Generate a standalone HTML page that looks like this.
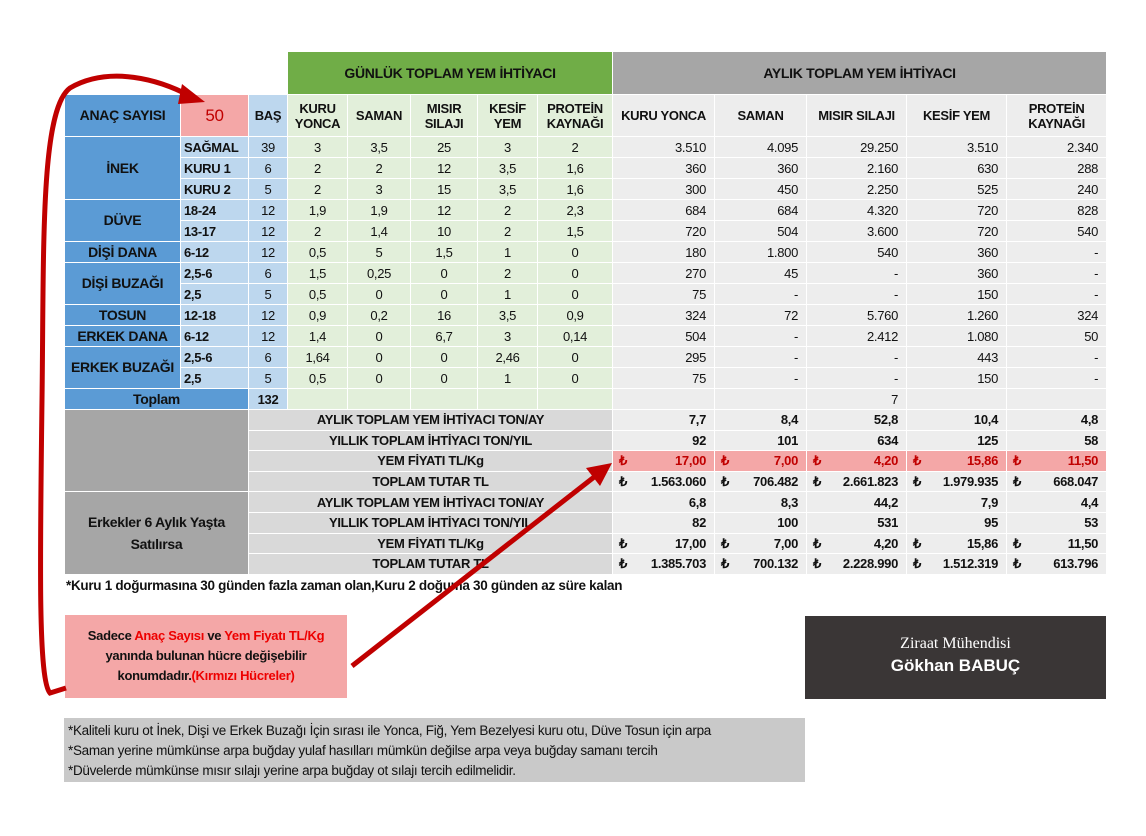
<!DOCTYPE html>
<html><head><meta charset="utf-8"><style>
*{margin:0;padding:0;box-sizing:border-box}
body{width:1146px;height:836px;background:#fff;position:relative;overflow:hidden;font-family:"Liberation Sans",sans-serif;color:#111}
table{position:absolute;left:64px;top:51px;width:1042px;table-layout:fixed;border-collapse:collapse}
td{border:1px solid #fff;font-size:13px;text-align:center;padding:0 3px;white-space:nowrap;overflow:hidden;line-height:15px;letter-spacing:-0.3px}
.b{font-weight:bold}
.bl{background:#5b9bd5;font-weight:bold;font-size:14px}
.lb{background:#bdd7ee;font-weight:bold;text-align:left}
.lb2{background:#bdd7ee}
.g{background:#e2efda}
.gh{background:#e2efda;font-weight:bold}
.gr{background:#ededed;text-align:right;padding-right:8px}
.grh{background:#ededed;font-weight:bold}
.mid{background:#d9d9d9;font-weight:bold}
.dk{background:#a6a6a6;font-weight:bold;font-size:14px}
.pk{background:#f4a7a7}
.tl{display:flex;justify-content:space-between;padding:0 8px 0 6px;font-weight:bold}
tr.d td{height:21px}
tr.s td{height:20.6px}
</style></head><body>
<table>
<colgroup><col style="width:116px"><col style="width:68px"><col style="width:39px"><col style="width:60px"><col style="width:63px"><col style="width:67px"><col style="width:60px"><col style="width:75px"><col style="width:102px"><col style="width:92px"><col style="width:100px"><col style="width:100px"><col style="width:100px"></colgroup>
<tr style="height:43px"><td colspan="3" style="background:#fff"></td><td colspan="5" class="b" style="background:#70ad47;font-size:14px">GÜNLÜK TOPLAM YEM İHTİYACI</td><td colspan="5" class="b" style="background:#a6a6a6;font-size:14px">AYLIK TOPLAM YEM İHTİYACI</td></tr>
<tr style="height:42px"><td class="bl">ANAÇ SAYISI</td><td class="pk" style="color:#c00000;font-size:17px">50</td><td class="lb2 b">BAŞ</td><td class="gh">KURU<br>YONCA</td><td class="gh">SAMAN</td><td class="gh">MISIR<br>SILAJI</td><td class="gh">KESİF<br>YEM</td><td class="gh">PROTEİN<br>KAYNAĞI</td><td class="grh">KURU YONCA</td><td class="grh">SAMAN</td><td class="grh">MISIR SILAJI</td><td class="grh">KESİF YEM</td><td class="grh">PROTEİN<br>KAYNAĞI</td></tr>
<tr class="d"><td rowspan="3" class="bl">İNEK</td><td class="lb">SAĞMAL</td><td class="lb2">39</td><td class="g">3</td><td class="g">3,5</td><td class="g">25</td><td class="g">3</td><td class="g">2</td><td class="gr">3.510</td><td class="gr">4.095</td><td class="gr">29.250</td><td class="gr">3.510</td><td class="gr">2.340</td></tr>
<tr class="d"><td class="lb">KURU 1</td><td class="lb2">6</td><td class="g">2</td><td class="g">2</td><td class="g">12</td><td class="g">3,5</td><td class="g">1,6</td><td class="gr">360</td><td class="gr">360</td><td class="gr">2.160</td><td class="gr">630</td><td class="gr">288</td></tr>
<tr class="d"><td class="lb">KURU 2</td><td class="lb2">5</td><td class="g">2</td><td class="g">3</td><td class="g">15</td><td class="g">3,5</td><td class="g">1,6</td><td class="gr">300</td><td class="gr">450</td><td class="gr">2.250</td><td class="gr">525</td><td class="gr">240</td></tr>
<tr class="d"><td rowspan="2" class="bl">DÜVE</td><td class="lb">18-24</td><td class="lb2">12</td><td class="g">1,9</td><td class="g">1,9</td><td class="g">12</td><td class="g">2</td><td class="g">2,3</td><td class="gr">684</td><td class="gr">684</td><td class="gr">4.320</td><td class="gr">720</td><td class="gr">828</td></tr>
<tr class="d"><td class="lb">13-17</td><td class="lb2">12</td><td class="g">2</td><td class="g">1,4</td><td class="g">10</td><td class="g">2</td><td class="g">1,5</td><td class="gr">720</td><td class="gr">504</td><td class="gr">3.600</td><td class="gr">720</td><td class="gr">540</td></tr>
<tr class="d"><td class="bl">DİŞİ DANA</td><td class="lb">6-12</td><td class="lb2">12</td><td class="g">0,5</td><td class="g">5</td><td class="g">1,5</td><td class="g">1</td><td class="g">0</td><td class="gr">180</td><td class="gr">1.800</td><td class="gr">540</td><td class="gr">360</td><td class="gr">-</td></tr>
<tr class="d"><td rowspan="2" class="bl">DİŞİ BUZAĞI</td><td class="lb">2,5-6</td><td class="lb2">6</td><td class="g">1,5</td><td class="g">0,25</td><td class="g">0</td><td class="g">2</td><td class="g">0</td><td class="gr">270</td><td class="gr">45</td><td class="gr">-</td><td class="gr">360</td><td class="gr">-</td></tr>
<tr class="d"><td class="lb">2,5</td><td class="lb2">5</td><td class="g">0,5</td><td class="g">0</td><td class="g">0</td><td class="g">1</td><td class="g">0</td><td class="gr">75</td><td class="gr">-</td><td class="gr">-</td><td class="gr">150</td><td class="gr">-</td></tr>
<tr class="d"><td class="bl">TOSUN</td><td class="lb">12-18</td><td class="lb2">12</td><td class="g">0,9</td><td class="g">0,2</td><td class="g">16</td><td class="g">3,5</td><td class="g">0,9</td><td class="gr">324</td><td class="gr">72</td><td class="gr">5.760</td><td class="gr">1.260</td><td class="gr">324</td></tr>
<tr class="d"><td class="bl">ERKEK DANA</td><td class="lb">6-12</td><td class="lb2">12</td><td class="g">1,4</td><td class="g">0</td><td class="g">6,7</td><td class="g">3</td><td class="g">0,14</td><td class="gr">504</td><td class="gr">-</td><td class="gr">2.412</td><td class="gr">1.080</td><td class="gr">50</td></tr>
<tr class="d"><td rowspan="2" class="bl">ERKEK BUZAĞI</td><td class="lb">2,5-6</td><td class="lb2">6</td><td class="g">1,64</td><td class="g">0</td><td class="g">0</td><td class="g">2,46</td><td class="g">0</td><td class="gr">295</td><td class="gr">-</td><td class="gr">-</td><td class="gr">443</td><td class="gr">-</td></tr>
<tr class="d"><td class="lb">2,5</td><td class="lb2">5</td><td class="g">0,5</td><td class="g">0</td><td class="g">0</td><td class="g">1</td><td class="g">0</td><td class="gr">75</td><td class="gr">-</td><td class="gr">-</td><td class="gr">150</td><td class="gr">-</td></tr>
<tr class="d"><td colspan="2" class="bl">Toplam</td><td class="lb2 b">132</td><td class="g"></td><td class="g"></td><td class="g"></td><td class="g"></td><td class="g"></td><td class="gr"></td><td class="gr"></td><td class="gr">7</td><td class="gr"></td><td class="gr"></td></tr>
<tr class="s"><td colspan="2" rowspan="4" class="dk"></td><td colspan="6" class="mid">AYLIK TOPLAM YEM İHTİYACI TON/AY</td><td class="gr b">7,7</td><td class="gr b">8,4</td><td class="gr b">52,8</td><td class="gr b">10,4</td><td class="gr b">4,8</td></tr>
<tr class="s"><td colspan="6" class="mid">YILLIK TOPLAM İHTİYACI TON/YIL</td><td class="gr b">92</td><td class="gr b">101</td><td class="gr b">634</td><td class="gr b">125</td><td class="gr b">58</td></tr>
<tr class="s"><td colspan="6" class="mid">YEM FİYATI TL/Kg</td><td class="pk" style="color:#c00000;padding:0"><div class="tl"><span>₺</span><span>17,00</span></div></td><td class="pk" style="color:#c00000;padding:0"><div class="tl"><span>₺</span><span>7,00</span></div></td><td class="pk" style="color:#c00000;padding:0"><div class="tl"><span>₺</span><span>4,20</span></div></td><td class="pk" style="color:#c00000;padding:0"><div class="tl"><span>₺</span><span>15,86</span></div></td><td class="pk" style="color:#c00000;padding:0"><div class="tl"><span>₺</span><span>11,50</span></div></td></tr>
<tr class="s"><td colspan="6" class="mid">TOPLAM TUTAR TL</td><td class="gr" style="padding:0"><div class="tl"><span>₺</span><span>1.563.060</span></div></td><td class="gr" style="padding:0"><div class="tl"><span>₺</span><span>706.482</span></div></td><td class="gr" style="padding:0"><div class="tl"><span>₺</span><span>2.661.823</span></div></td><td class="gr" style="padding:0"><div class="tl"><span>₺</span><span>1.979.935</span></div></td><td class="gr" style="padding:0"><div class="tl"><span>₺</span><span>668.047</span></div></td></tr>
<tr class="s"><td colspan="2" rowspan="4" class="dk" style="line-height:22px">Erkekler 6 Aylık Yaşta<br>Satılırsa</td><td colspan="6" class="mid">AYLIK TOPLAM YEM İHTİYACI TON/AY</td><td class="gr b">6,8</td><td class="gr b">8,3</td><td class="gr b">44,2</td><td class="gr b">7,9</td><td class="gr b">4,4</td></tr>
<tr class="s"><td colspan="6" class="mid">YILLIK TOPLAM İHTİYACI TON/YIL</td><td class="gr b">82</td><td class="gr b">100</td><td class="gr b">531</td><td class="gr b">95</td><td class="gr b">53</td></tr>
<tr class="s"><td colspan="6" class="mid">YEM FİYATI TL/Kg</td><td class="gr" style="padding:0"><div class="tl"><span>₺</span><span>17,00</span></div></td><td class="gr" style="padding:0"><div class="tl"><span>₺</span><span>7,00</span></div></td><td class="gr" style="padding:0"><div class="tl"><span>₺</span><span>4,20</span></div></td><td class="gr" style="padding:0"><div class="tl"><span>₺</span><span>15,86</span></div></td><td class="gr" style="padding:0"><div class="tl"><span>₺</span><span>11,50</span></div></td></tr>
<tr class="s"><td colspan="6" class="mid">TOPLAM TUTAR TL</td><td class="gr" style="padding:0"><div class="tl"><span>₺</span><span>1.385.703</span></div></td><td class="gr" style="padding:0"><div class="tl"><span>₺</span><span>700.132</span></div></td><td class="gr" style="padding:0"><div class="tl"><span>₺</span><span>2.228.990</span></div></td><td class="gr" style="padding:0"><div class="tl"><span>₺</span><span>1.512.319</span></div></td><td class="gr" style="padding:0"><div class="tl"><span>₺</span><span>613.796</span></div></td></tr>
</table>
<div style="position:absolute;left:66px;top:578px;font-size:13.5px;font-weight:bold;letter-spacing:-0.3px">*Kuru 1 doğurmasına 30 günden fazla zaman olan,Kuru 2 doğuma 30 günden az süre kalan</div>
<div style="position:absolute;left:65px;top:615px;width:282px;height:83px;background:#f4a7a7;font-size:13px;font-weight:bold;text-align:center;line-height:20px;padding-top:11px;letter-spacing:-0.3px">Sadece <span style="color:#e00">Anaç Sayısı</span> ve <span style="color:#e00">Yem Fiyatı TL/Kg</span><br>yanında bulunan hücre değişebilir<br>konumdadır.<span style="color:#e00">(Kırmızı Hücreler)</span></div>
<div style="position:absolute;left:805px;top:616px;width:301px;height:83px;background:#3a3636;color:#fff;text-align:center"><div style="font-family:'Liberation Serif',serif;font-size:16px;margin-top:19px">Ziraat Mühendisi</div><div style="font-weight:bold;font-size:17px;margin-top:3px">Gökhan BABUÇ</div></div>
<div style="position:absolute;left:64px;top:718px;width:741px;height:64px;background:#c9c9c9;font-size:13.5px;line-height:20px;padding:3px 0 0 4px;letter-spacing:-0.3px">*Kaliteli kuru ot İnek, Dişi ve Erkek Buzağı İçin sırası ile Yonca, Fiğ, Yem Bezelyesi kuru otu, Düve Tosun için arpa<br>*Saman yerine mümkünse arpa buğday yulaf hasılları mümkün değilse arpa veya buğday samanı tercih<br>*Düvelerde mümkünse mısır sılajı yerine arpa buğday ot sılajı tercih edilmelidir.</div>
<svg style="position:absolute;left:0;top:0" width="1146" height="836">
<path d="M66,688 L50,693 C38,680 40,560 42,400 C44,250 40,110 70,88 C110,65 160,80 190,96" fill="none" stroke="#c00000" stroke-width="5"/>
<polygon points="205,102 182,84 178,104" fill="#c00000"/>
<line x1="352" y1="666" x2="598" y2="474" stroke="#c00000" stroke-width="5"/>
<polygon points="612,463 586,468 600,486" fill="#c00000"/>
</svg>
</body></html>
